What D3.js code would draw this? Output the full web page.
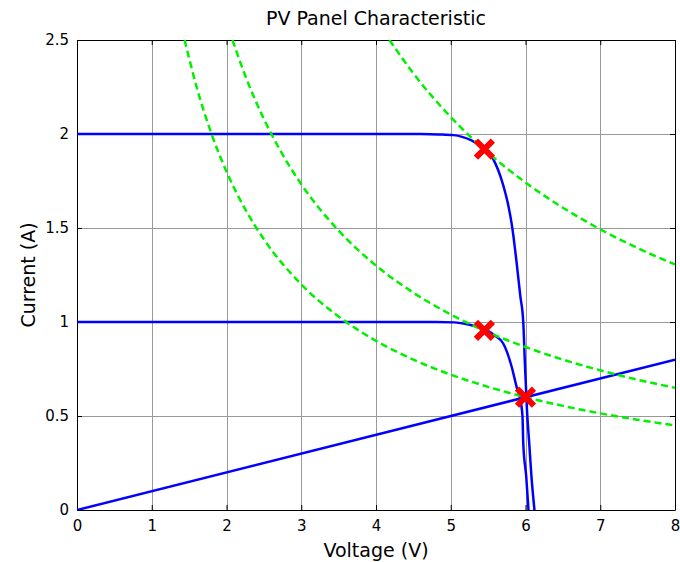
<!DOCTYPE html>
<html>
<head>
<meta charset="utf-8">
<script src="https://cdn.jsdelivr.net/npm/d3@7"></script>
<style>
  html, body { margin: 0; padding: 0; background: #fff; }
  svg { display: block; font-family: "DejaVu Sans", Verdana, sans-serif; }
</style>
</head>
<body>
<svg id="chart" width="680" height="562"></svg>
<script>
// Axis ticks
const xTicks = [0, 1, 2, 3, 4, 5, 6, 7, 8];
const yTicks = [0, 0.5, 1, 1.5, 2, 2.5];
const yTickLabels = ["0", "0.5", "1", "1.5", "2", "2.5"];

// I-V curve, 2 A short-circuit current
const iv2V = [0, 2, 4, 4.6, 4.84, 5.04, 5.27, 5.44, 5.57, 5.70, 5.77, 5.82, 5.88, 5.93, 5.97, 5.99, 6.02, 6.05, 6.08, 6.12];
const iv2I = [2.0, 2.0, 2.0, 2.0, 1.998, 1.994, 1.967, 1.927, 1.865, 1.73, 1.62, 1.51, 1.32, 1.14, 1.0, 0.80, 0.53, 0.354, 0.176, 0];

// I-V curve, 1 A short-circuit current
const iv1V = [0, 2, 4, 4.8, 5.04, 5.25, 5.48, 5.60, 5.70, 5.815, 5.88, 5.94, 5.96, 5.97, 6.01, 6.04];
const iv1I = [1.0, 1.0, 1.0, 1.0, 0.998, 0.985, 0.957, 0.925, 0.887, 0.762, 0.656, 0.567, 0.496, 0.355, 0.177, 0];

// Resistive load line (10 ohm)
const loadV = [0, 8];
const loadI = [0, 0.8];

// Constant-power curves
const p1V = [4.18, 4.5, 5, 5.5, 6, 6.5, 7, 7.5, 8];
const p1I = [2.5, 2.322, 2.09, 1.9, 1.742, 1.608, 1.493, 1.393, 1.306];

const p2V = [2.08, 2.25, 2.5, 2.75, 3, 3.5, 4, 4.5, 5, 5.5, 6, 6.5, 7, 7.5, 8];
const p2I = [2.5, 2.311, 2.08, 1.891, 1.733, 1.486, 1.3, 1.156, 1.04, 0.945, 0.867, 0.8, 0.743, 0.693, 0.65];

const p3V = [1.44, 1.6, 1.8, 2, 2.25, 2.5, 3, 3.5, 4, 4.5, 5, 5.5, 6, 6.5, 7, 7.5, 8];
const p3I = [2.5, 2.25, 2.0, 1.8, 1.6, 1.44, 1.2, 1.029, 0.9, 0.8, 0.72, 0.655, 0.6, 0.554, 0.514, 0.48, 0.45];

// Operating points
const opV = [5.45, 5.45, 6.0];
const opI = [1.92, 0.955, 0.6];

const svg = d3.select("#chart");
const L = 77, R = 675, T = 40, B = 510;

const x = d3.scaleLinear().domain([0, 8]).range([L, R]);
const y = d3.scaleLinear().domain([0, 2.5]).range([B, T]);

const zip = (a, b) => a.map((v, i) => [v, b[i]]);

svg.append("defs").append("clipPath").attr("id", "plotclip")
  .append("rect").attr("x", L).attr("y", T).attr("width", R - L).attr("height", B - T);

// Grid
const grid = svg.append("g").attr("shape-rendering", "crispEdges");
grid.selectAll(".gx").data(xTicks.slice(1, -1)).join("line")
  .attr("x1", d => Math.round(x(d)) + 0.5).attr("x2", d => Math.round(x(d)) + 0.5)
  .attr("y1", T).attr("y2", B)
  .attr("stroke", "#999").attr("stroke-width", 1);
grid.selectAll(".gy").data(yTicks.slice(1, -1)).join("line")
  .attr("y1", d => Math.round(y(d)) + 0.5).attr("y2", d => Math.round(y(d)) + 0.5)
  .attr("x1", L).attr("x2", R)
  .attr("stroke", "#999").attr("stroke-width", 1);

// Axes (ticks inward on all four sides)
const tickLen = 5;
const xAxisB = d3.axisBottom(x).tickValues(xTicks).tickSizeInner(-tickLen).tickSizeOuter(0).tickPadding(10).tickFormat(d3.format("d"));
const xAxisT = d3.axisTop(x).tickValues(xTicks).tickSizeInner(-tickLen).tickSizeOuter(0).tickFormat("");
const yAxisL = d3.axisLeft(y).tickValues(yTicks).tickSizeInner(-tickLen).tickSizeOuter(0).tickPadding(8).tickFormat((d, i) => yTickLabels[i]);
const yAxisR = d3.axisRight(y).tickValues(yTicks).tickSizeInner(-tickLen).tickSizeOuter(0).tickFormat("");

function styleAxis(g) {
  g.select(".domain").attr("stroke", "#000").attr("stroke-width", 1);
  g.selectAll(".tick line").attr("stroke", "#000");
  g.selectAll(".tick text").attr("fill", "#000").attr("font-size", 15)
    .attr("font-family", "'DejaVu Sans', Verdana, sans-serif");
}
svg.append("g").attr("transform", `translate(0,${B})`).call(xAxisB).call(styleAxis);
svg.append("g").attr("transform", `translate(0,${T})`).call(xAxisT).call(styleAxis);
svg.append("g").attr("transform", `translate(${L},0)`).call(yAxisL).call(styleAxis);
svg.append("g").attr("transform", `translate(${R},0)`).call(yAxisR).call(styleAxis);

// Curves
const plot = svg.append("g").attr("clip-path", "url(#plotclip)");
const line = d3.line().x(d => x(d[0])).y(d => y(d[1])).curve(d3.curveMonotoneX);
const straight = d3.line().x(d => x(d[0])).y(d => y(d[1]));

[[iv2V, iv2I], [iv1V, iv1I]].forEach(([v, i]) => {
  plot.append("path").datum(zip(v, i)).attr("d", line)
    .attr("fill", "none").attr("stroke", "#0000ff").attr("stroke-width", 2.5);
});
plot.append("path").datum(zip(loadV, loadI)).attr("d", straight)
  .attr("fill", "none").attr("stroke", "#0000ff").attr("stroke-width", 2.5);

[[p1V, p1I], [p2V, p2I], [p3V, p3I]].forEach(([v, i]) => {
  plot.append("path").datum(zip(v, i)).attr("d", line)
    .attr("fill", "none").attr("stroke", "#00f000").attr("stroke-width", 2.5)
    .attr("stroke-dasharray", "7,4");
});

// Operating-point markers
const mk = 8.5;
svg.append("g").selectAll("path").data(zip(opV, opI)).join("path")
  .attr("transform", d => `translate(${x(d[0])},${y(d[1])})`)
  .attr("d", `M${-mk},${-mk}L${mk},${mk}M${-mk},${mk}L${mk},${-mk}`)
  .attr("stroke", "#ff0000").attr("stroke-width", 6).attr("fill", "none");

// Titles
svg.append("text").attr("x", (L + R) / 2).attr("y", 25).attr("text-anchor", "middle")
  .attr("font-size", 19).text("PV Panel Characteristic");
svg.append("text").attr("x", (L + R) / 2).attr("y", 557).attr("text-anchor", "middle")
  .attr("font-size", 19).text("Voltage (V)");
svg.append("text").attr("transform", `translate(35,${(T + B) / 2}) rotate(-90)`)
  .attr("text-anchor", "middle").attr("font-size", 19).text("Current (A)");
</script>
</body>
</html>
